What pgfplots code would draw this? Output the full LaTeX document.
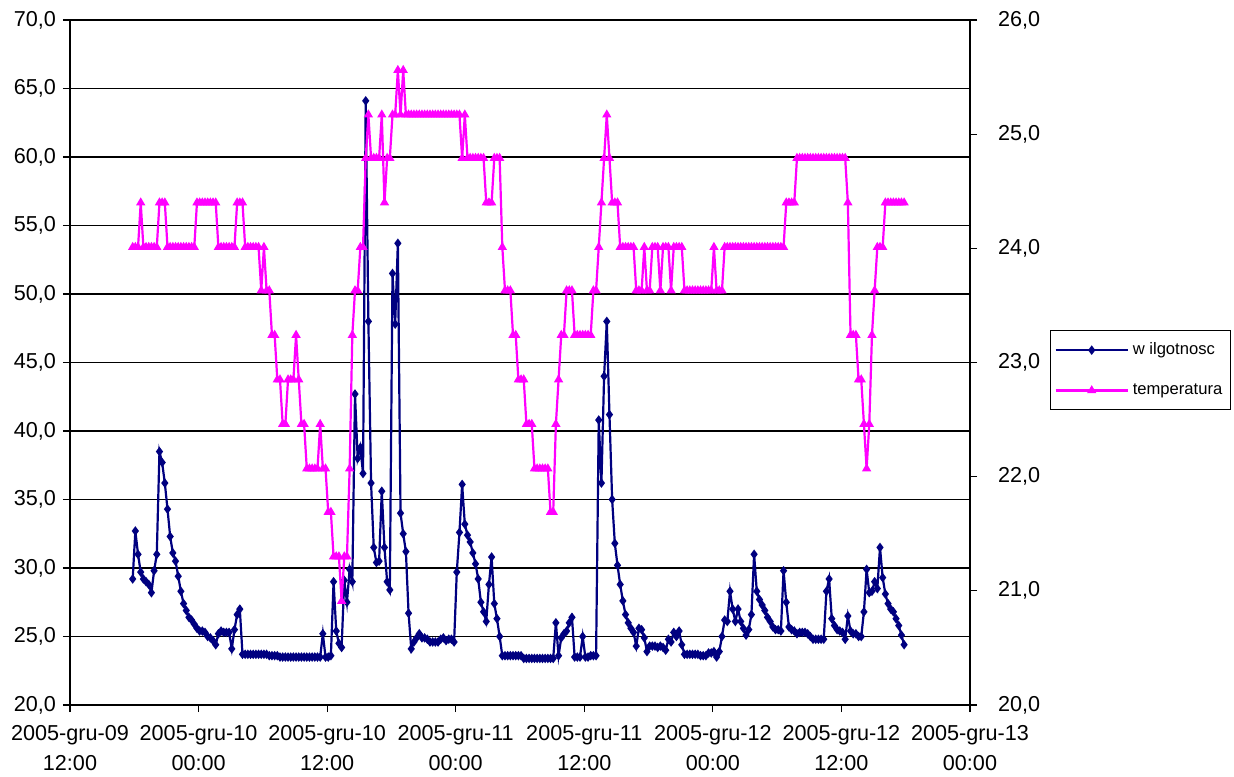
\documentclass[border=0pt]{standalone}
\usepackage{pgfplots}
\usepackage{pgfplotstable}
\pgfplotsset{compat=1.18}
\usepackage{fontspec}
\setmainfont{Liberation Sans}
\definecolor{wil}{RGB}{0,0,128}
\definecolor{tem}{RGB}{255,0,255}
\pgfplotstableread{
h w t
5.85 29.2 24.01
6.10 32.7 24.01
6.35 31.0 24.01
6.60 29.7 24.40
6.85 29.2 24.01
7.10 29.0 24.01
7.35 28.8 24.01
7.60 28.2 24.01
7.85 29.8 24.01
8.10 31.0 24.01
8.35 38.5 24.40
8.60 37.7 24.40
8.85 36.2 24.40
9.10 34.3 24.01
9.35 32.3 24.01
9.60 31.1 24.01
9.85 30.5 24.01
10.10 29.4 24.01
10.35 28.3 24.01
10.60 27.4 24.01
10.85 26.9 24.01
11.10 26.4 24.01
11.35 26.2 24.01
11.60 25.9 24.01
11.85 25.6 24.40
12.10 25.4 24.40
12.35 25.4 24.40
12.60 25.3 24.40
12.85 25.0 24.40
13.10 24.9 24.40
13.35 24.7 24.40
13.60 24.4 24.40
13.85 25.2 24.01
14.10 25.4 24.01
14.35 25.3 24.01
14.60 25.3 24.01
14.85 25.3 24.01
15.10 24.1 24.01
15.35 25.5 24.01
15.60 26.6 24.40
15.85 27.0 24.40
16.10 23.7 24.40
16.35 23.7 24.01
16.60 23.7 24.01
16.85 23.7 24.01
17.10 23.7 24.01
17.35 23.7 24.01
17.60 23.7 24.01
17.85 23.7 23.63
18.10 23.7 24.01
18.35 23.7 23.63
18.60 23.6 23.63
18.85 23.6 23.24
19.10 23.6 23.24
19.35 23.6 22.85
19.60 23.5 22.85
19.85 23.5 22.46
20.10 23.5 22.46
20.35 23.5 22.85
20.60 23.5 22.85
20.85 23.5 22.85
21.10 23.5 23.24
21.35 23.5 22.85
21.60 23.5 22.46
21.85 23.5 22.46
22.10 23.5 22.07
22.35 23.5 22.07
22.60 23.5 22.07
22.85 23.5 22.07
23.10 23.5 22.07
23.35 23.5 22.46
23.60 25.2 22.07
23.85 23.5 22.07
24.10 23.5 21.69
24.35 23.6 21.69
24.60 29.0 21.30
24.85 25.4 21.30
25.10 24.5 21.30
25.35 24.2 20.91
25.60 29.1 21.30
25.85 27.5 21.30
26.10 29.9 22.07
26.35 29.0 23.24
26.60 42.7 23.63
26.85 38.0 23.63
27.10 38.8 24.01
27.35 36.9 24.01
27.60 64.1 24.79
27.85 48.0 25.17
28.10 36.2 24.79
28.35 31.5 24.79
28.60 30.4 24.79
28.85 30.5 24.79
29.10 35.6 25.17
29.35 31.5 24.40
29.60 29.0 24.79
29.85 28.4 24.79
30.10 51.5 25.17
30.35 47.8 25.17
30.60 53.7 25.56
30.85 34.0 25.17
31.10 32.5 25.56
31.35 31.2 25.17
31.60 26.7 25.17
31.85 24.1 25.17
32.10 24.6 25.17
32.35 24.9 25.17
32.60 25.2 25.17
32.85 24.9 25.17
33.10 24.9 25.17
33.35 24.8 25.17
33.60 24.6 25.17
33.85 24.6 25.17
34.10 24.6 25.17
34.35 24.6 25.17
34.60 24.8 25.17
34.85 24.9 25.17
35.10 24.7 25.17
35.35 24.8 25.17
35.60 24.8 25.17
35.85 24.6 25.17
36.10 29.7 25.17
36.35 32.6 25.17
36.60 36.1 24.79
36.85 33.2 25.17
37.10 32.4 24.79
37.35 31.9 24.79
37.60 31.1 24.79
37.85 30.3 24.79
38.10 29.2 24.79
38.35 27.5 24.79
38.60 26.8 24.79
38.85 26.1 24.40
39.10 28.8 24.40
39.35 30.8 24.40
39.60 27.4 24.79
39.85 26.3 24.79
40.10 25.0 24.79
40.35 23.6 24.01
40.60 23.6 23.63
40.85 23.6 23.63
41.10 23.6 23.63
41.35 23.6 23.24
41.60 23.6 23.24
41.85 23.6 22.85
42.10 23.6 22.85
42.35 23.4 22.85
42.60 23.4 22.46
42.85 23.4 22.46
43.10 23.4 22.46
43.35 23.4 22.07
43.60 23.4 22.07
43.85 23.4 22.07
44.10 23.4 22.07
44.35 23.4 22.07
44.60 23.4 22.07
44.85 23.4 21.69
45.10 23.4 21.69
45.35 26.0 22.46
45.60 23.6 22.85
45.85 24.9 23.24
46.10 25.2 23.24
46.35 25.4 23.63
46.60 26.0 23.63
46.85 26.4 23.63
47.10 23.5 23.24
47.35 23.5 23.24
47.60 23.5 23.24
47.85 25.0 23.24
48.10 23.5 23.24
48.35 23.5 23.24
48.60 23.6 23.24
48.85 23.6 23.63
49.10 23.6 23.63
49.35 40.8 24.01
49.60 36.2 24.40
49.85 44.0 24.79
50.10 48.0 25.17
50.35 41.2 24.79
50.60 35.0 24.40
50.85 31.8 24.40
51.10 30.2 24.40
51.35 28.8 24.01
51.60 27.6 24.01
51.85 26.6 24.01
52.10 26.0 24.01
52.35 25.6 24.01
52.60 25.3 24.01
52.85 24.3 23.63
53.10 25.6 23.63
53.35 25.5 23.63
53.60 24.9 24.01
53.85 23.9 23.63
54.10 24.3 23.63
54.35 24.3 24.01
54.60 24.3 24.01
54.85 24.2 24.01
55.10 24.3 23.63
55.35 24.2 24.01
55.60 24.0 24.01
55.85 24.8 24.01
56.10 24.6 23.63
56.35 25.3 24.01
56.60 25.0 24.01
56.85 25.4 24.01
57.10 24.4 24.01
57.35 23.7 23.63
57.60 23.7 23.63
57.85 23.7 23.63
58.10 23.7 23.63
58.35 23.7 23.63
58.60 23.7 23.63
58.85 23.6 23.63
59.10 23.6 23.63
59.35 23.6 23.63
59.60 23.8 23.63
59.85 23.8 23.63
60.10 23.9 24.01
60.35 23.5 23.63
60.60 23.9 23.63
60.85 25.0 23.63
61.10 26.2 24.01
61.35 26.1 24.01
61.60 28.3 24.01
61.85 27.0 24.01
62.10 26.1 24.01
62.35 27.0 24.01
62.60 26.1 24.01
62.85 25.6 24.01
63.10 25.1 24.01
63.35 25.5 24.01
63.60 26.6 24.01
63.85 31.0 24.01
64.10 28.3 24.01
64.35 27.7 24.01
64.60 27.3 24.01
64.85 26.9 24.01
65.10 26.4 24.01
65.35 26.1 24.01
65.60 25.7 24.01
65.85 25.5 24.01
66.10 25.5 24.01
66.35 25.4 24.01
66.60 29.8 24.01
66.85 27.5 24.40
67.10 25.7 24.40
67.35 25.5 24.40
67.60 25.4 24.40
67.85 25.2 24.79
68.10 25.3 24.79
68.35 25.3 24.79
68.60 25.3 24.79
68.85 25.2 24.79
69.10 25.0 24.79
69.35 24.8 24.79
69.60 24.8 24.79
69.85 24.8 24.79
70.10 24.8 24.79
70.35 24.8 24.79
70.60 28.3 24.79
70.85 29.2 24.79
71.10 26.3 24.79
71.35 25.8 24.79
71.60 25.5 24.79
71.85 25.4 24.79
72.10 25.3 24.79
72.35 24.8 24.79
72.60 26.5 24.40
72.85 25.4 23.24
73.10 25.2 23.24
73.35 25.2 23.24
73.60 25.0 22.85
73.85 25.0 22.85
74.10 26.8 22.46
74.35 29.9 22.07
74.60 28.2 22.46
74.85 28.3 23.24
75.10 29.0 23.63
75.35 28.5 24.01
75.60 31.5 24.01
75.85 29.3 24.01
76.10 28.1 24.40
76.35 27.4 24.40
76.60 27.0 24.40
76.85 26.8 24.40
77.10 26.3 24.40
77.35 25.8 24.40
77.60 25.1 24.40
77.85 24.4 24.40
}\data
\begin{document}
\begin{tikzpicture}
\useasboundingbox (-35pt,-35.5pt) rectangle (582pt,352.5pt);
\pgfplotsset{
  common/.style={
    scale only axis, width=450pt, height=342.5pt,
    xmin=0, xmax=84, xtick={0,12,...,84},
    tick align=outside, major tick length=3.5pt,
    /pgf/number format/assume math mode=true,
    ticklabel style={font=\fontsize{10.8}{15}\selectfont},
    tick style={black, line width=0.6pt},
    axis line style={black, line width=0.6pt},
    every axis plot/.append style={line width=1.1pt},
  }
}
\begin{axis}[common,
  ymin=20, ymax=70, ytick={20,25,...,70},
  axis y line*=left, xtick pos=bottom,
  ymajorgrids, grid style={black, line width=0.7pt},
  xticklabels={{2005-gru-09\\12:00},{2005-gru-10\\00:00},{2005-gru-10\\12:00},{2005-gru-11\\00:00},{2005-gru-11\\12:00},{2005-gru-12\\00:00},{2005-gru-12\\12:00},{2005-gru-13\\00:00}},
  xticklabel style={align=center, yshift=-3pt},
  yticklabel style={/pgf/number format/.cd, fixed, fixed zerofill, precision=1, use comma},
]
\addplot[wil, mark=diamond*, mark size=1.5pt, mark options={solid}] table[x=h,y=w]{\data};
\end{axis}
\begin{axis}[common,
  ymin=20, ymax=26, ytick={20,...,26},
  axis y line*=right, axis x line=none,
  yticklabel style={xshift=7pt, /pgf/number format/.cd, fixed, fixed zerofill, precision=1, use comma},
  legend style={at={(1.0889,0.5474)}, anchor=north west, draw=black, line width=0.6pt,
    font=\fontsize{8.3}{10}\selectfont, row sep=9pt, inner xsep=2pt, inner ysep=4pt},
  legend cell align=left,
  legend image code/.code={\draw[mark repeat=2,mark phase=2] plot coordinates {(0pt,0pt)(18pt,0pt)(36pt,0pt)};},
]
\addlegendimage{wil, line width=1.1pt, mark=diamond*, mark size=1.5pt, mark options={solid}}
\addlegendentry{w ilgotnosc}
\addplot[tem, mark=triangle*, mark size=1.6pt, mark options={solid}] table[x=h,y=t]{\data};
\addlegendentry{temperatura}
\end{axis}
\end{tikzpicture}
\end{document}
